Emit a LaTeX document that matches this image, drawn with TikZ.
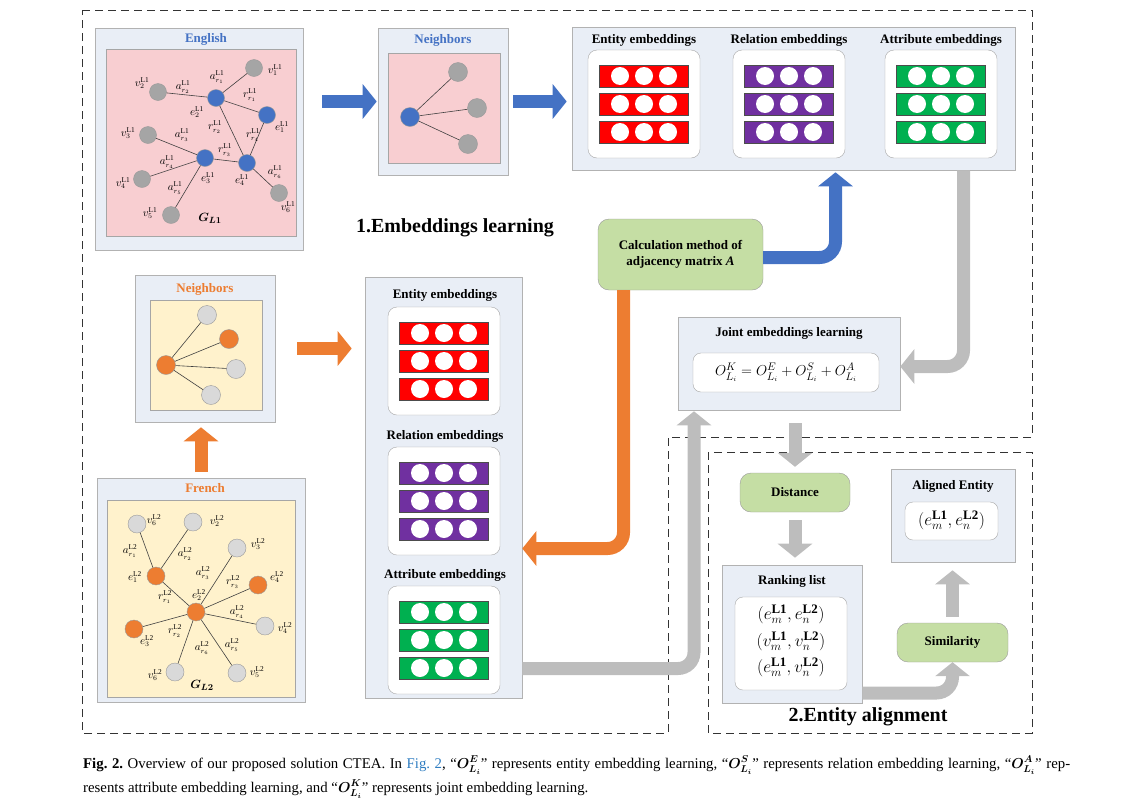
\documentclass[tikz,border=0pt]{standalone}
\usepackage{amsmath}
\usepackage{fontspec}
\setmainfont{Liberation Serif}
\usetikzlibrary{arrows.meta,positioning,calc}

\definecolor{panelbg}{HTML}{E9EEF6}
\definecolor{engpink}{HTML}{F8CED1}
\definecolor{fryellow}{HTML}{FFF2CC}
\definecolor{nodeblue}{HTML}{4472C4}
\definecolor{nodeorange}{HTML}{ED7D31}
\definecolor{enggrey}{HTML}{A5A5A5}
\definecolor{frgrey}{HTML}{D9D9D9}
\definecolor{calcgreen}{HTML}{C5DEA4}
\definecolor{embred}{HTML}{FF0000}
\definecolor{embpurple}{HTML}{7030A0}
\definecolor{embgreen}{HTML}{00B050}
\definecolor{arrowgrey}{HTML}{BDBDBD}
\definecolor{linkblue}{HTML}{2F7DC1}

% one embedding block: white card with three bars of three slots
\newcommand{\embblock}[4]{%
  \node[embbox] (#1) at (#2,#3) {};
  \foreach \rowy [count=\r] in {-28,0,28}{
    \node[embbar, fill=#4] (#1b\r) at (#2,#3+\rowy) {};
    \foreach \slotx [count=\s] in {-24,0,24}
      \node[slot] (#1b\r s\s) at (#2+\slotx,#3+\rowy) {};
  }%
}

\begin{document}
\begin{tikzpicture}[
  x=1pt, y=-1pt,
  panel/.style={draw=black!30,fill=panelbg,inner sep=0pt,line width=0.6pt},
  graphbg/.style={draw=black!35,inner sep=0pt,line width=0.5pt},
  paneltitle/.style={font=\bfseries\fontsize{13}{13}\selectfont},
  embbox/.style={draw=black!35,fill=white,rounded corners=9pt,minimum width=112pt,minimum height=108pt,inner sep=0pt},
  embbar/.style={draw=black!70,line width=0.4pt,minimum width=89pt,minimum height=22pt,inner sep=0pt},
  slot/.style={circle,fill=white,minimum size=18pt,inner sep=0pt},
  whitebox/.style={draw=black!35,fill=white,rounded corners=8pt,inner sep=0pt},
  greenbox/.style={draw=black!40,fill=calcgreen,rounded corners=11pt,inner sep=0pt,align=center,font=\bfseries\fontsize{13}{16}\selectfont},
  enode/.style={circle,draw=black!40,fill=nodeblue,minimum size=17pt,inner sep=0pt},
  vnode/.style={circle,draw=black!40,fill=enggrey,minimum size=17pt,inner sep=0pt},
  onode/.style={circle,draw=black!40,fill=nodeorange,minimum size=18pt,inner sep=0pt},
  fnode/.style={circle,draw=black!40,fill=frgrey,minimum size=18pt,inner sep=0pt},
  gedge/.style={draw=black!75,line width=0.6pt},
  glbl/.style={inner sep=0pt,font=\fontsize{10.5}{10.5}\selectfont},
  pairtext/.style={inner sep=0pt,font=\fontsize{18.5}{18.5}\selectfont},
  blockarrow/.style={line width=13pt,-{Triangle[length=14pt,width=34pt]}},
  bluearrow/.style={blockarrow,draw=nodeblue},
  orangearrow/.style={blockarrow,draw=nodeorange},
  greyarrow/.style={blockarrow,draw=arrowgrey},
  region/.style={dashed,dash pattern=on 8pt off 5pt,line width=1pt,draw=black!80},
  section/.style={font=\bfseries\fontsize{20}{20}\selectfont},
  caption/.style={anchor=west,inner sep=0pt,font=\fontsize{14.8}{14.8}\selectfont\frenchspacing}
]
\useasboundingbox (0,0) rectangle (1126,809);

% dashed regions
\draw[region] (82,10) -- (1032,10) -- (1032,437) -- (668,437) -- (668,733) -- (82,733) -- cycle;
\draw[region] (708,452) rectangle (1032,733);

% English knowledge graph
\node[panel,minimum width=208pt,minimum height=222pt] (engpanel) at (199,139) {};
\node[paneltitle,text=nodeblue] (engtitle) at (206,39) {English};
\node[graphbg,fill=engpink,minimum width=190pt,minimum height=187pt] (engbg) at (201,142.5) {};
\foreach \n/\x/\y in {e1/267/115,e2/216/98,e3/205/158,e4/247/163}
  \node[enode] (en\n) at (\x,\y) {};
\foreach \n/\x/\y in {v1/254/68,v2/158/92,v3/148/135,v4/142/179,v5/171/215,v6/279/193}
  \node[vnode] (en\n) at (\x,\y) {};
\foreach \a/\b in {v2/e2,e2/v1,e2/e1,e2/e4,e1/e4,e3/v3,e3/e4,e3/v4,e3/v5,e4/v6}
  \draw[gedge] (en\a) -- (en\b);
\foreach \x/\y/\txt [count=\i] in {
  142/83/v_2^{\mathrm{L1}}, 183/87/a_{r_2}^{\mathrm{L1}}, 217/77/a_{r_1}^{\mathrm{L1}},
  275/70/v_1^{\mathrm{L1}}, 250/95/r_{r_1}^{\mathrm{L1}}, 197/112/e_2^{\mathrm{L1}},
  282/127/e_1^{\mathrm{L1}}, 215/127/r_{r_2}^{\mathrm{L1}}, 128/133/v_3^{\mathrm{L1}},
  182/135/a_{r_3}^{\mathrm{L1}}, 253/135/r_{r_4}^{\mathrm{L1}}, 225/150/r_{r_3}^{\mathrm{L1}},
  167/162/a_{r_4}^{\mathrm{L1}}, 208/178/e_3^{\mathrm{L1}}, 242/180/e_4^{\mathrm{L1}},
  275/172/a_{r_6}^{\mathrm{L1}}, 123/183/v_4^{\mathrm{L1}}, 175/188/a_{r_5}^{\mathrm{L1}},
  150/213/v_5^{\mathrm{L1}}, 288/207/v_6^{\mathrm{L1}}}
  \node[glbl] (enl\i) at (\x,\y) {$\txt$};
\node[glbl,font=\fontsize{13}{13}\selectfont] (engname) at (210,218) {$\boldsymbol{G_{L1}}$};

% English neighbours
\node[panel,minimum width=130pt,minimum height=147pt] (nbtop) at (443,101.5) {};
\node[paneltitle,text=nodeblue] (nbtoptitle) at (443,40) {Neighbors};
\node[graphbg,fill=engpink,minimum width=112pt,minimum height=110pt] (nbtopbg) at (444,108) {};
\node[enode,minimum size=19pt] (nbc) at (410,117) {};
\foreach \n/\x/\y in {1/458/72,2/477/108,3/468/144}{
  \node[vnode,minimum size=19pt] (nbv\n) at (\x,\y) {};
  \draw[gedge] (nbc) -- (nbv\n);
}

% embeddings of the English graph
\node[panel,minimum width=443pt,minimum height=143pt] (topemb) at (793.5,98.5) {};
\node[paneltitle] (topenttitle) at (644,40) {Entity embeddings};
\node[paneltitle] (toprelttitle) at (789,40) {Relation embeddings};
\node[paneltitle] (topatttitle) at (941,40) {Attribute embeddings};
\embblock{topent}{644}{104}{embred}
\embblock{toprel}{789}{104}{embpurple}
\embblock{topatt}{941}{104}{embgreen}

\draw[bluearrow,shorten <=19pt,shorten >=1pt] (engpanel.east |- nbtop.west) -- (nbtop.west);
\draw[bluearrow,shorten <=5pt,shorten >=5pt] (nbtop.east) -- (topemb.west |- nbtop.east);

\node[section] (learnlabel) at (455,228) {1.Embeddings learning};

% French knowledge graph
\node[panel,minimum width=208pt,minimum height=224pt] (frpanel) at (201,590) {};
\node[paneltitle,text=nodeorange] (frtitle) at (205,488) {French};
\node[graphbg,fill=fryellow,minimum width=188pt,minimum height=197pt] (frbg) at (201,598.5) {};
\foreach \n/\x/\y in {e1/156/576,e2/196/612,e3/134/629,e4/258/585}
  \node[onode] (fr\n) at (\x,\y) {};
\foreach \n/\x/\y in {va/137/524,vb/193/522,vc/237/548,vd/265/626,ve/237/673,vf/175/672}
  \node[fnode] (fr\n) at (\x,\y) {};
\foreach \a/\b in {va/e1,vb/e1,e1/e2,e2/vc,e2/e4,e2/vd,e2/e3,e2/ve,e2/vf}
  \draw[gedge] (fr\a) -- (fr\b);
\foreach \x/\y/\txt [count=\i] in {
  154/520/v_6^{\mathrm{L2}}, 217/521/v_2^{\mathrm{L2}}, 130/551/a_{r_1}^{\mathrm{L2}},
  185/554/a_{r_2}^{\mathrm{L2}}, 258/544/v_3^{\mathrm{L2}}, 135/577/e_1^{\mathrm{L2}},
  203/573/a_{r_3}^{\mathrm{L2}}, 233/582/r_{r_3}^{\mathrm{L2}}, 277/577/e_4^{\mathrm{L2}},
  199/595/e_2^{\mathrm{L2}}, 165/597/r_{r_1}^{\mathrm{L2}}, 237/612/a_{r_4}^{\mathrm{L2}},
  285/628/v_4^{\mathrm{L2}}, 175/631/r_{r_2}^{\mathrm{L2}}, 147/641/e_3^{\mathrm{L2}},
  202/648/a_{r_6}^{\mathrm{L2}}, 232/645/a_{r_5}^{\mathrm{L2}}, 155/675/v_6^{\mathrm{L2}},
  257/672/v_5^{\mathrm{L2}}}
  \node[glbl] (frl\i) at (\x,\y) {$\txt$};
\node[glbl,font=\fontsize{13}{13}\selectfont] (frname) at (202,685) {$\boldsymbol{G_{L2}}$};

% French neighbours
\node[panel,minimum width=140pt,minimum height=147pt] (nbleft) at (205,348.5) {};
\node[paneltitle,text=nodeorange] (nblefttitle) at (205,289) {Neighbors};
\node[graphbg,fill=fryellow,minimum width=112pt,minimum height=110pt] (nbleftbg) at (206,355) {};
\node[onode,minimum size=19pt] (nlc) at (166,365) {};
\node[fnode,minimum size=19pt] (nlv1) at (207,315) {};
\node[onode,minimum size=19pt] (nlv2) at (229,339) {};
\node[fnode,minimum size=19pt] (nlv3) at (236,369) {};
\node[fnode,minimum size=19pt] (nlv4) at (211,395) {};
\foreach \n in {1,2,3,4}
  \draw[gedge] (nlc) -- (nlv\n);

% embeddings of the French graph
\node[panel,minimum width=157pt,minimum height=421pt] (lowemb) at (443.5,487.5) {};
\node[paneltitle] (lowenttitle) at (445,295) {Entity embeddings};
\node[paneltitle] (lowreltitle) at (445,436) {Relation embeddings};
\node[paneltitle] (lowatttitle) at (445,575) {Attribute embeddings};
\embblock{lowent}{444}{361}{embred}
\embblock{lowrel}{444}{501}{embpurple}
\embblock{lowatt}{444}{640}{embgreen}

\draw[orangearrow,shorten <=6pt,shorten >=5pt] (frpanel.north) -- (frpanel.north |- nbleft.south);
\draw[orangearrow,shorten <=22pt,shorten >=13pt] (nbleft.east) -- (lowemb.west |- nbleft.east);

% adjacency matrix
\node[greenbox,minimum width=165pt,minimum height=71pt] (calc) at (680.5,254.5)
  {Calculation method of\\adjacency matrix \textit{A}};
\draw[bluearrow,rounded corners=16pt,shorten >=2pt] ([yshift=-3pt]calc.east) -| ([xshift=42pt]topemb.south);
\draw[orangearrow,rounded corners=16pt] ([xshift=-57pt]calc.south) |- ([yshift=-61pt]lowemb.east);

% joint embeddings
\node[panel,minimum width=222pt,minimum height=93pt] (joint) at (789,363.5) {};
\node[paneltitle] (jointtitle) at (789,333) {Joint embeddings learning};
\node[whitebox,minimum width=186pt,minimum height=39pt,font=\fontsize{15}{15}\selectfont] (jointeq) at (786,372.5)
  {$O_{L_i}^{K}=O_{L_i}^{E}+O_{L_i}^{S}+O_{L_i}^{A}$};
\draw[greyarrow,rounded corners=16pt] ([xshift=170pt]topemb.south) |- ([yshift=-3pt]joint.east);
\draw[greyarrow,rounded corners=16pt,shorten >=1pt] ([yshift=-181pt]lowemb.east) -| ([xshift=-95pt]joint.south);

% entity alignment
\node[greenbox,minimum width=110pt,minimum height=39pt] (dist) at (795,492.5) {Distance};
\node[panel,minimum width=140pt,minimum height=138pt] (rank) at (792,634) {};
\node[paneltitle] (ranktitle) at (792,581) {Ranking list};
\node[whitebox,minimum width=112pt,minimum height=93pt] (ranklist) at (791,643.5) {};
\node[pairtext] (rankee) at (791,614) {$(e_m^{\mathbf{L1}},e_n^{\mathbf{L2}})$};
\node[pairtext] (rankvv) at (791,641) {$(v_m^{\mathbf{L1}},v_n^{\mathbf{L2}})$};
\node[pairtext] (rankev) at (791,667) {$(e_m^{\mathbf{L1}},v_n^{\mathbf{L2}})$};
\node[panel,minimum width=124pt,minimum height=93pt] (aligned) at (953,515.5) {};
\node[paneltitle] (alignedtitle) at (953,486) {Aligned Entity};
\node[whitebox,minimum width=93pt,minimum height=38pt] (alignedbox) at (951.5,521) {};
\node[pairtext] (alignedpair) at (951.5,520) {$(e_m^{\mathbf{L1}},e_n^{\mathbf{L2}})$};
\node[greenbox,minimum width=111pt,minimum height=39pt] (sim) at (952.5,642.5) {Similarity};

\draw[greyarrow,shorten <=13pt,shorten >=6pt] (joint.south -| dist.north) -- (dist.north);
\draw[greyarrow,shorten <=8pt,shorten >=7pt] (dist.south) -- (dist.south |- rank.north);
\draw[greyarrow,rounded corners=16pt] ([yshift=-59pt]rank.east) -| (sim.south);
\draw[greyarrow,shorten <=6pt,shorten >=8pt] (sim.north) -- (sim.north |- aligned.south);

\node[section] (alignlabel) at (868,717) {2.Entity alignment};

% caption
\node[caption] (capline1) at (83,765) {\makebox[987pt][s]{\textbf{Fig.\ 2.} Overview of our proposed solution CTEA. In \textcolor{linkblue}{Fig.\ 2}, “$\boldsymbol{O^{E}_{L_i}}$” represents entity embedding learning, “$\boldsymbol{O^{S}_{L_i}}$” represents relation embedding learning, “$\boldsymbol{O^{A}_{L_i}}$” rep-}};
\node[caption] (capline2) at (83,789) {resents attribute embedding learning, and “$\boldsymbol{O^{K}_{L_i}}$” represents joint embedding learning.};
\end{tikzpicture}
\end{document}
